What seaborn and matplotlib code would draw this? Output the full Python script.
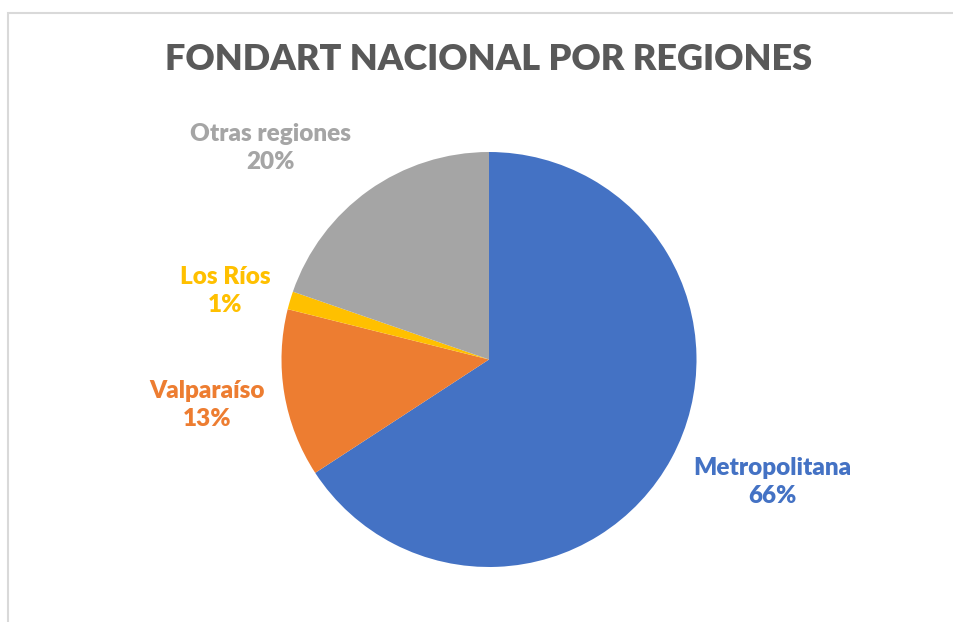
import matplotlib
matplotlib.use("Agg")
import matplotlib.pyplot as plt
import matplotlib.patches as mpatches
import seaborn as sns

# Data
regions = ["Metropolitana", "Valparaíso", "Los Ríos", "Otras regiones"]
shares = [65.8, 13.1, 1.4, 19.7]
colors = ["#4472C4", "#ED7D31", "#FFC000", "#A5A5A5"]

# label anchor positions (pie radius = 1)
label_pos = [(1.364, -0.590), (-1.359, -0.219), (-1.272, 0.330), (-1.055, 1.019)]

sns.set_theme(style="white")
plt.rcParams["font.family"] = ["Lato", "DejaVu Sans"]

W, H = 954, 622
R = 207.5  # pie radius in px
cx, cy = 489, 359.5

fig = plt.figure(figsize=(W / 100, H / 100), dpi=100)
ax = fig.add_axes([0, 0, 1, 1])
ax.pie(shares, colors=colors, startangle=90, counterclock=False,
       radius=1, wedgeprops=dict(linewidth=0))
ax.set_xlim(-cx / R, (W - cx) / R)
ax.set_ylim(-(H - cy) / R, cy / R)
ax.set_aspect("equal")
ax.axis("off")

total = sum(shares)
for name, val, col, (lx, ly) in zip(regions, shares, colors, label_pos):
    ax.text(lx, ly, f"{name}\n{round(val / total * 100)}%", color=col,
            fontsize=17.5, fontweight="heavy", ha="center", va="center",
            linespacing=1.3)

fig.text(488.5 / W, 1 - 60 / H, "FONDART NACIONAL POR REGIONES",
         ha="center", va="center", fontsize=26, fontweight="heavy", color="#595959")

# chart frame (only top/left visible in the crop)
fig.patches.append(mpatches.Rectangle((8.5 / W, -0.1), 1.2, 1 - 12.5 / H + 0.1,
                                      transform=fig.transFigure, fill=False,
                                      edgecolor="#D9D9D9", linewidth=1.5))

fig.savefig("out.png", dpi=100)
